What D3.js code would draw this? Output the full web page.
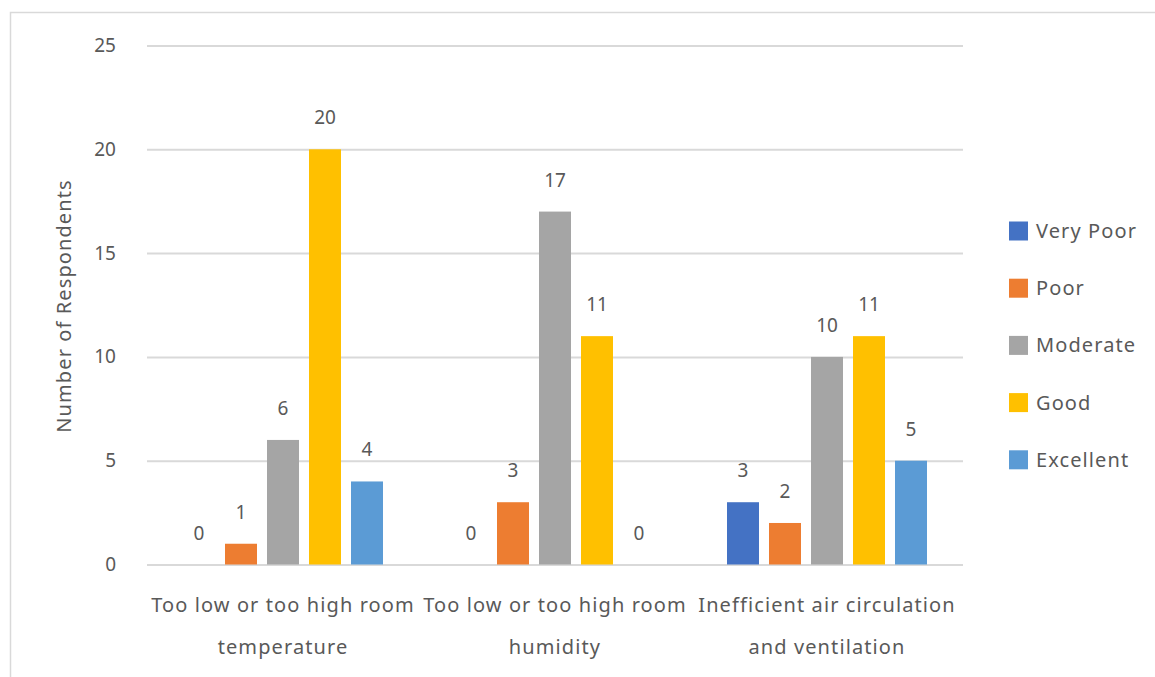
<!DOCTYPE html>
<html>
<head>
<meta charset="utf-8">
<script src="https://cdn.jsdelivr.net/npm/d3@7"></script>
<style>
  html, body { margin: 0; padding: 0; background: #fff; }
  svg { display: block; }
  text { font-family: "Noto Sans", "Open Sans", sans-serif; fill: #595959; }
  .word { letter-spacing: 1.1px; }
</style>
</head>
<body>
<svg id="chart" width="1155" height="677"></svg>
<script>
// Survey results: rating counts per indoor-climate issue
const categories = [
  ["Too low or too high room", "temperature"],
  ["Too low or too high room", "humidity"],
  ["Inefficient air circulation", "and ventilation"]
];
const ratings = ["Very Poor", "Poor", "Moderate", "Good", "Excellent"];
const veryPoor  = [0, 0, 3];
const poor      = [1, 3, 2];
const moderate  = [6, 17, 10];
const good      = [20, 11, 11];
const excellent = [4, 0, 5];
const yTicks = [0, 5, 10, 15, 20, 25];
const colors = ["#4472C4", "#ED7D31", "#A5A5A5", "#FFC000", "#5B9BD5"];

const seriesValues = [veryPoor, poor, moderate, good, excellent];

const svg = d3.select("#chart");
const plot = { left: 147, right: 963, top: 45.5, bottom: 564.5 };

// chart frame (extends past the right and bottom edges)
svg.append("rect")
  .attr("x", 10.5).attr("y", 12.5)
  .attr("width", 1200).attr("height", 700)
  .attr("fill", "none").attr("stroke", "#d9d9d9").attr("stroke-width", 1.5);

const x0 = d3.scaleBand()
  .domain(d3.range(categories.length))
  .range([plot.left, plot.right])
  .paddingInner(0).paddingOuter(0);

const groupWidth = 200;
const x1 = d3.scaleBand()
  .domain(ratings)
  .range([(x0.bandwidth() - groupWidth) / 2, (x0.bandwidth() + groupWidth) / 2])
  .paddingInner(10 / 42).paddingOuter(0);

const y = d3.scaleLinear().domain([0, 25]).range([plot.bottom, plot.top]);

// gridlines and y tick labels
const yAxis = d3.axisLeft(y).tickValues(yTicks).tickSize(-(plot.right - plot.left)).tickPadding(31);
const gy = svg.append("g").attr("transform", `translate(${plot.left},0)`).call(yAxis);
gy.select(".domain").remove();
gy.selectAll(".tick line").attr("stroke", "#d9d9d9").attr("stroke-width", 2);
gy.selectAll(".tick text")
  .attr("font-size", 19).attr("fill", "#595959")
  .style("font-family", '"Noto Sans", sans-serif');

// axis title
svg.append("text")
  .attr("class", "word")
  .attr("transform", "translate(71,306) rotate(-90)")
  .attr("text-anchor", "middle")
  .attr("font-size", 20)
  .text("Number of Respondents");

// bars
const groups = svg.append("g").selectAll("g")
  .data(categories.map((c, i) => i))
  .join("g")
  .attr("transform", i => `translate(${x0(i)},0)`);

groups.selectAll("rect")
  .data(i => ratings.map((r, k) => ({ r, k, v: seriesValues[k][i] })))
  .join("rect")
  .attr("x", d => x1(d.r))
  .attr("width", x1.bandwidth())
  .attr("y", d => y(d.v))
  .attr("height", d => y(0) - y(d.v))
  .attr("fill", d => colors[d.k]);

groups.selectAll("text.val")
  .data(i => ratings.map((r, k) => ({ r, k, v: seriesValues[k][i] })))
  .join("text")
  .attr("class", "val")
  .attr("x", d => x1(d.r) + x1.bandwidth() / 2)
  .attr("y", d => y(d.v) - 25)
  .attr("text-anchor", "middle")
  .attr("font-size", 19)
  .text(d => d.v);

// category labels
const cat = svg.append("g").selectAll("text")
  .data(categories)
  .join("text")
  .attr("class", "word")
  .attr("x", (d, i) => x0(i) + x0.bandwidth() / 2)
  .attr("y", 612)
  .attr("text-anchor", "middle")
  .attr("font-size", 20);
cat.selectAll("tspan")
  .data(d => d)
  .join("tspan")
  .attr("x", function () { return this.parentNode.getAttribute("x"); })
  .attr("dy", (d, j) => j === 0 ? 0 : 42)
  .text(d => d);

// legend
const legend = svg.append("g").selectAll("g")
  .data(ratings)
  .join("g")
  .attr("transform", (d, i) => `translate(1009,${231 + i * 57.2})`);
legend.append("rect")
  .attr("x", 0).attr("y", -9.5).attr("width", 19).attr("height", 19)
  .attr("fill", (d, i) => colors[i]);
legend.append("text")
  .attr("class", "word")
  .attr("x", 27).attr("y", 7)
  .attr("font-size", 20)
  .text(d => d);
</script>
</body>
</html>
